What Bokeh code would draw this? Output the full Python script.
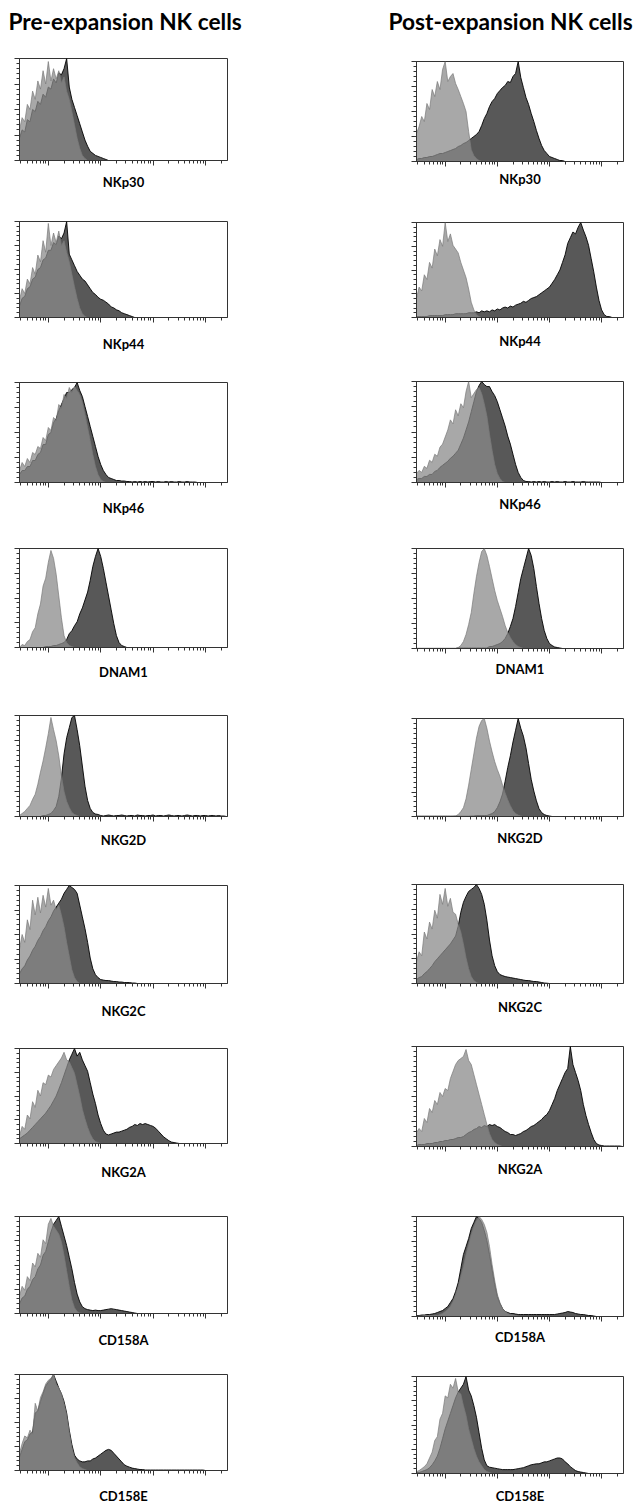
from bokeh.plotting import figure
from bokeh.layouts import row, column
from bokeh.models import Range1d, FixedTicker, CustomJSTickFormatter
from bokeh.embed import file_html
from bokeh.resources import INLINE

# log10 fluorescence bin positions (common histogram channel grid)
BIN_LOG = [0.45, 0.50, 0.55, 0.60, 0.65, 0.70, 0.75, 0.80, 0.85, 0.90,
           0.95, 1.00, 1.05, 1.10, 1.15, 1.20, 1.25, 1.30, 1.35, 1.40,
           1.45, 1.50, 1.55, 1.60, 1.65, 1.70, 1.75, 1.80, 1.85, 1.90,
           1.95, 2.00, 2.05, 2.10, 2.15, 2.20, 2.25, 2.30, 2.35, 2.40,
           2.45, 2.50, 2.55, 2.60, 2.65, 2.70, 2.75, 2.80, 2.85, 2.90,
           2.95, 3.00, 3.05, 3.10, 3.15, 3.20, 3.25, 3.30, 3.35, 3.40,
           3.45, 3.50, 3.55, 3.60, 3.65, 3.70, 3.75, 3.80, 3.85, 3.90,
           3.95, 4.00, 4.05, 4.10, 4.15, 4.20, 4.25, 4.30, 4.35, 4.40]
X_MIN_LOG, X_MAX_LOG = 0.45, 4.42

TITLES = ["Pre-expansion NK cells", "Post-expansion NK cells"]
MARKERS = ["NKp30", "NKp44", "NKp46", "DNAM1", "NKG2D", "NKG2C", "NKG2A", "CD158A", "CD158E"]

# % of mode, isotype control (light) and specific mAb (dark)
PRE_NKP30_ISO = [30, 42, 38, 55, 50, 68, 60, 78, 70, 88, 75, 97, 78, 90, 80, 88, 76, 82, 68, 60, 48, 35, 22, 12, 5, 2]
PRE_NKP30_MAB = [22, 30, 28, 40, 38, 50, 48, 58, 55, 65, 62, 72, 70, 80, 76, 86, 84, 90, 100, 72, 60, 52, 44, 36, 28, 20, 14, 9, 7, 5, 4, 3, 2, 1]
POST_NKP30_ISO = [28, 35, 45, 40, 58, 52, 72, 65, 80, 72, 92, 100, 80, 85, 88, 78, 72, 65, 58, 50, 30, 12, 6, 3, 1]
POST_NKP30_MAB = [2, 3, 3, 4, 4, 5, 5, 6, 7, 8, 8, 9, 10, 11, 12, 13, 15, 16, 18, 19, 21, 23, 25, 27, 30, 36, 43, 48, 55, 60, 63, 68, 71, 74, 76, 80, 79, 85, 88, 100, 84, 74, 64, 57, 48, 40, 31, 23, 16, 11, 8, 5, 4, 3, 2, 1, 1]

PRE_NKP44_ISO = [18, 30, 25, 40, 35, 52, 45, 65, 58, 80, 68, 98, 75, 88, 78, 90, 75, 80, 68, 58, 45, 32, 20, 10, 4, 1]
PRE_NKP44_MAB = [12, 20, 22, 30, 32, 40, 42, 50, 52, 60, 62, 70, 70, 78, 76, 85, 82, 88, 100, 66, 60, 54, 48, 44, 40, 38, 34, 30, 26, 24, 21, 19, 18, 16, 14, 11, 10, 8, 7, 5, 4, 3, 2, 1]
POST_NKP44_ISO = [20, 32, 28, 45, 40, 58, 52, 72, 65, 82, 75, 100, 80, 88, 76, 72, 68, 58, 50, 42, 30, 16, 8, 3, 1]
POST_NKP44_MAB = [1, 1, 1, 1, 1, 2, 2, 2, 2, 2, 2, 3, 3, 3, 3, 4, 4, 4, 4, 4, 5, 5, 5, 6, 5, 7, 6, 7, 6, 8, 7, 9, 8, 10, 11, 10, 12, 11, 13, 14, 15, 17, 16, 18, 20, 21, 22, 24, 26, 28, 30, 32, 36, 40, 45, 50, 58, 66, 78, 84, 90, 88, 95, 100, 92, 85, 76, 62, 48, 32, 18, 8, 3, 1, 1]

PRE_NKP46_ISO = [12, 20, 16, 24, 20, 30, 28, 36, 34, 45, 42, 55, 52, 65, 62, 78, 74, 88, 84, 95, 90, 96, 92, 88, 80, 68, 55, 42, 28, 16, 8, 3, 1]
PRE_NKP46_MAB = [8, 12, 12, 16, 16, 22, 22, 28, 30, 38, 38, 48, 50, 60, 64, 72, 78, 84, 90, 90, 93, 95, 100, 92, 86, 76, 66, 56, 46, 36, 26, 18, 12, 8, 5, 4, 3, 2, 2, 1.5, 1.5, 1, 1, 0.5, 1, 0.5, 1, 0.5, 1, 0.5, 1, 1, 0.5, 1, 0.5, 0.5, 1, 0.5, 1, 0.5, 0.5, 1, 0.5, 0.5, 1, 0.5, 0.5, 0.5]
POST_NKP46_ISO = [9, 12, 10, 16, 14, 22, 20, 28, 26, 35, 38, 45, 52, 62, 58, 72, 66, 78, 74, 90, 100, 84, 88, 92, 94, 88, 78, 66, 48, 32, 18, 9, 4, 1]
POST_NKP46_MAB = [3, 4, 4, 6, 6, 8, 8, 11, 12, 15, 17, 19, 21, 24, 26, 29, 32, 38, 44, 52, 60, 70, 80, 90, 96, 100, 97, 95, 95, 90, 86, 80, 72, 64, 56, 46, 38, 28, 18, 10, 5, 2, 1, 1, 0.5, 1, 0.5, 1, 0.5, 1, 0.5, 0.5, 1, 0.5, 1, 0.5, 0.5, 1, 0.5, 0.5, 1, 0.5, 0.5, 0.5, 1, 0.5, 0.5, 0.5, 0.5, 0.5, 0.5]

PRE_DNAM1_ISO = [0, 3, 2, 6, 8, 16, 20, 34, 44, 62, 70, 86, 98, 90, 74, 52, 30, 12, 5, 2, 1]
PRE_DNAM1_MAB = [0, 0, 0, 0, 0, 0, 0, 0, 0, 0, 1, 1, 1, 2, 2, 3, 4, 5, 8, 14, 17, 22, 26, 34, 40, 48, 56, 68, 82, 92, 100, 92, 80, 66, 52, 38, 24, 12, 5, 2, 1]
POST_DNAM1_ISO = [0.3, 0.3, 0.3, 0.3, 0.3, 0.3, 0.3, 0.3, 0.3, 0.3, 0.3, 0.3, 0.3, 0.3, 0.3, 0.3, 1, 3, 7, 14, 24, 36, 55, 72, 86, 97, 100, 93, 82, 70, 58, 48, 40, 32, 23, 16, 11, 7, 4, 2, 1]
POST_DNAM1_MAB = [0, 0, 0, 0, 0, 0, 0, 0, 0, 0, 0, 0, 0, 0, 0, 0, 0.5, 0.5, 0.5, 0.5, 0.5, 0.5, 0.5, 0.5, 0.5, 0.5, 0.5, 0.5, 2, 2, 3, 4, 5, 7, 10, 15, 22, 30, 42, 56, 70, 80, 90, 100, 93, 80, 62, 45, 30, 18, 10, 5, 3, 1.5, 1, 0.5]

PRE_NKG2D_ISO = [1, 3, 5, 8, 11, 17, 22, 32, 44, 55, 68, 82, 98, 86, 75, 60, 40, 25, 15, 9, 4, 2, 1]
PRE_NKG2D_MAB = [0, 0, 0, 0, 0, 0, 0, 0, 0, 1, 1, 2, 3, 6, 10, 20, 38, 62, 78, 88, 98, 100, 86, 70, 50, 30, 16, 8, 4, 2.5, 2,
                 1, 0.5, 1, 1.5, 1, 0.5, 1, 1, 1.5, 1, 0.5, 1, 1, 0.5, 1.5, 1, 1, 0.5, 1, 1, 1.5, 0.5, 1, 1, 0.5, 1, 1.5, 1, 0.5, 1, 1, 0.5, 1, 1.5, 1, 0.5, 1, 1, 0.5, 1, 1, 0.5, 1, 1, 0.5, 1, 0.5, 0.5]
POST_NKG2D_ISO = [0, 0, 0, 0, 0, 0, 0, 0, 0, 0, 0, 0, 0, 0, 0, 0.5, 2, 5, 9, 18, 32, 48, 64, 80, 92, 98, 100, 90, 77, 66, 56, 48, 41, 32, 24, 17, 11, 6, 3, 1.5, 0.5]
POST_NKG2D_MAB = [0.3, 0.3, 0.3, 0.3, 0.3, 0.3, 0.3, 0.3, 0.3, 0.3, 0.3, 0.3, 0.3, 0.3, 0.3, 0.3, 0.3, 0.3, 0.3, 0.3, 0.3, 0.5, 0.5, 1, 1, 1, 1, 1, 2, 3, 5, 9, 15, 23, 36, 50, 62, 76, 88, 100, 90, 82, 70, 54, 38, 26, 16, 8, 4, 2, 1, 0.5]

PRE_NKG2C_ISO = [35, 50, 42, 65, 55, 85, 70, 88, 72, 90, 78, 97, 80, 85, 75, 80, 70, 58, 42, 28, 14, 6, 2]
PRE_NKG2C_MAB = [10, 15, 18, 24, 28, 34, 38, 44, 48, 54, 58, 64, 68, 74, 78, 82, 86, 92, 96, 100, 98, 96, 92, 80, 68, 56, 42, 26, 15, 9, 6, 4, 3.5, 3, 3, 2.5, 2, 2, 1.5, 1.5, 1, 1, 1, 0.5, 0.5]
POST_NKG2C_ISO = [22, 32, 28, 52, 45, 62, 55, 74, 66, 90, 80, 96, 78, 86, 72, 70, 60, 52, 40, 26, 15, 7, 3, 1]
POST_NKG2C_MAB = [4, 6, 7, 10, 12, 15, 18, 22, 25, 28, 31, 34, 37, 40, 44, 48, 58, 72, 82, 88, 93, 95, 97, 100, 96, 90, 80, 64, 44, 28, 18, 12, 9, 8, 7, 6.5, 6, 5.5, 5, 4.5, 4, 3.5, 3, 3, 2.5, 2, 2, 1.5, 1, 0.5, 0.3]

PRE_NKG2A_ISO = [8, 18, 15, 30, 26, 44, 38, 56, 50, 64, 62, 72, 70, 78, 82, 86, 90, 96, 88, 86, 80, 74, 62, 50, 36, 26, 17, 10, 5, 2, 1]
PRE_NKG2A_MAB = [5, 7, 9, 11, 14, 17, 20, 23, 26, 29, 32, 36, 40, 45, 50, 57, 64, 72, 80, 88, 94, 100, 92, 96, 88, 82, 76, 64, 52, 42, 30, 21, 14, 10, 9, 10, 11, 12, 12, 13, 14, 15, 17, 18, 20, 19, 21, 20, 21, 20, 19, 18, 16, 13, 10, 7, 5, 3, 1.5, 1, 0.5]
POST_NKG2A_ISO = [14, 18, 15, 28, 24, 38, 34, 46, 42, 54, 50, 58, 56, 68, 75, 82, 86, 88, 90, 97, 86, 82, 72, 62, 52, 42, 32, 22, 13, 7, 4, 2, 1]
POST_NKG2A_MAB = [1, 2, 2, 2, 3, 3, 3, 4, 4, 5, 5, 6, 6, 7, 7, 8, 9, 9, 10, 12, 14, 15, 17, 18, 20, 19, 21, 20, 22, 21, 22, 20, 19, 17, 15, 14, 12, 12, 11, 12, 13, 15, 16, 18, 20, 21, 23, 25, 27, 30, 32, 36, 42, 48, 56, 62, 68, 74, 78, 100, 82, 74, 66, 56, 42, 31, 22, 14, 7, 3, 1.5, 1, 0.5, 0.5, 0.5, 0.5, 0.5, 0.5, 0.5]

PRE_CD158A_ISO = [18, 28, 24, 38, 34, 52, 48, 62, 58, 76, 72, 92, 98, 90, 86, 82, 74, 60, 44, 28, 14, 6, 2, 0.5]
PRE_CD158A_MAB = [10, 16, 18, 25, 28, 35, 38, 46, 50, 60, 64, 74, 84, 92, 96, 100, 90, 80, 70, 58, 46, 32, 20, 12, 7, 5, 4, 3.5, 3, 3.5, 3, 3, 3.5, 4, 4.5, 5, 4.5, 4, 3.5, 3, 2.5, 2, 1.5, 1, 0.5]
POST_CD158A_ISO = [0.5, 0.5, 0.5, 1, 1, 1, 1, 1, 1, 2, 3, 5, 7, 10, 15, 22, 30, 40, 50, 62, 72, 82, 90, 96, 100, 97, 92, 84, 70, 52, 36, 22, 14, 8, 5, 3, 2, 1.5, 1, 0.5]
POST_CD158A_MAB = [1, 1, 1.5, 1.5, 2, 2, 2.5, 3, 4, 5, 6, 8, 10, 14, 18, 25, 34, 48, 62, 70, 78, 88, 94, 100, 98, 94, 86, 76, 62, 47, 32, 20, 13, 8, 5, 4, 3, 3, 2.5, 2, 2, 2, 2, 2, 2, 2, 2, 2, 2, 2, 2, 2, 2, 2, 2.5, 3, 3.5, 4, 5, 4.5, 4, 3, 2.5, 2, 2, 1.5, 1, 1, 0.5]

PRE_CD158E_ISO = [18, 28, 36, 34, 42, 38, 70, 62, 76, 82, 90, 94, 96, 100, 90, 86, 80, 70, 58, 40, 24, 13, 8, 4, 2, 1]
PRE_CD158E_MAB = [14, 22, 30, 32, 38, 40, 60, 62, 72, 80, 88, 92, 95, 100, 93, 86, 80, 72, 60, 42, 27, 16, 12, 10, 9, 9, 10, 10, 12, 13, 15, 17, 19, 21, 22, 21, 18, 15, 12, 9, 6, 4.5, 3.5, 2.5, 2, 1.5, 1, 1, 0.5, 0.5, 0.5, 0.5, 0.5, 0.5, 0.5, 0.5, 0.5, 0.5, 0.5, 0.5, 0.5, 0.5, 0.5, 0.5, 0.5, 0.5, 0.5, 0.5, 0.5, 0.5, 0.5]
POST_CD158E_ISO = [2, 3, 5, 7, 10, 16, 22, 34, 38, 56, 62, 80, 78, 92, 88, 98, 84, 82, 70, 60, 46, 36, 26, 18, 12, 8, 4, 2, 1]
POST_CD158E_MAB = [1, 1, 2, 3, 4, 6, 9, 13, 18, 26, 36, 46, 54, 62, 70, 78, 84, 88, 92, 100, 86, 80, 70, 58, 42, 26, 14, 8, 6.5, 6, 5.5, 5, 4.5, 4, 4, 4, 4, 4, 4.5, 5, 5.5, 6, 7, 8, 9, 9.5, 10, 10, 11, 12, 12, 13, 14, 15, 16, 16, 15, 12, 10, 7, 5, 3, 2, 1.5, 1, 0.5]

PRE_SERIES = [(PRE_NKP30_ISO, PRE_NKP30_MAB), (PRE_NKP44_ISO, PRE_NKP44_MAB), (PRE_NKP46_ISO, PRE_NKP46_MAB),
              (PRE_DNAM1_ISO, PRE_DNAM1_MAB), (PRE_NKG2D_ISO, PRE_NKG2D_MAB), (PRE_NKG2C_ISO, PRE_NKG2C_MAB),
              (PRE_NKG2A_ISO, PRE_NKG2A_MAB), (PRE_CD158A_ISO, PRE_CD158A_MAB), (PRE_CD158E_ISO, PRE_CD158E_MAB)]
POST_SERIES = [(POST_NKP30_ISO, POST_NKP30_MAB), (POST_NKP44_ISO, POST_NKP44_MAB), (POST_NKP46_ISO, POST_NKP46_MAB),
               (POST_DNAM1_ISO, POST_DNAM1_MAB), (POST_NKG2D_ISO, POST_NKG2D_MAB), (POST_NKG2C_ISO, POST_NKG2C_MAB),
               (POST_NKG2A_ISO, POST_NKG2A_MAB), (POST_CD158A_ISO, POST_CD158A_MAB), (POST_CD158E_ISO, POST_CD158E_MAB)]

# layout: (top border, frame height, bottom border, axis label standoff); header heights
LEFT_HEADER, RIGHT_HEADER = 56, 59
LEFT_LAYOUT = [(2, 102, 51, 8), (10, 96, 55, 13), (10, 100, 56, 12), (10, 99, 58, 11), (10, 101, 59, 10),
               (10, 98, 55, 14), (10, 95, 63, 15), (10, 97, 51, 13), (10, 100, 32, 12)]
RIGHT_LAYOUT = [(2, 100, 51, 4), (10, 95, 54, 10), (10, 101, 56, 8), (10, 100, 60, 7), (10, 98, 58, 8),
                (10, 99, 53, 10), (10, 100, 60, 9), (10, 100, 50, 7), (10, 99, 31, 9)]

DARK_FILL = "#585858"
LIGHT_FILL = "#8a8a8a"
BOX = "#333333"
FONT = "Lato"

N = len(BIN_LOG)
X = [10 ** v for v in BIN_LOG]
BLANK = CustomJSTickFormatter(code="return ''")


def pad(v):
    v = list(v)[:N]
    return v + [0.0] * (N - len(v))


def header(text, width, height, left, offset):
    h = figure(width=width, height=height, toolbar_location=None, output_backend="svg",
               x_range=Range1d(0, 1), y_range=Range1d(0, 1),
               min_border_left=left, min_border_right=0, min_border_top=0, min_border_bottom=0)
    h.axis.visible = False
    h.grid.visible = False
    h.outline_line_color = None
    h.background_fill_color = "white"
    h.border_fill_color = "white"
    h.title.text = text
    h.title.text_font = FONT
    h.title.text_font_size = "22.7px"
    h.title.text_font_style = "bold"
    h.title.text_color = "black"
    h.title.align = "left"
    h.title.vertical_align = "bottom"
    h.title.offset = offset
    h.title.standoff = 10
    return h


def panel(marker, iso, mab, lay, left, fw, right):
    top, fh, bottom, lab = lay
    p = figure(width=left + fw + right, height=top + fh + bottom,
               x_axis_type="log",
               x_range=Range1d(10 ** X_MIN_LOG, 10 ** X_MAX_LOG), y_range=Range1d(0, 100),
               toolbar_location=None, output_backend="svg",
               min_border_left=left, min_border_right=right,
               min_border_top=top, min_border_bottom=bottom)
    p.background_fill_color = "white"
    p.border_fill_color = "white"
    p.outline_line_color = BOX
    p.outline_line_width = 1
    p.grid.visible = False

    y_iso = pad(iso)
    y_mab = pad(mab)
    p.varea(x=X, y1=[0] * N, y2=y_mab, fill_color=DARK_FILL, fill_alpha=1.0)
    p.line(x=X, y=y_mab, line_color="black", line_width=0.9)
    p.varea(x=X, y1=[0] * N, y2=y_iso, fill_color=LIGHT_FILL, fill_alpha=0.74)
    p.line(x=X, y=y_iso, line_color="#7a7a7a", line_width=0.7)

    xmaj = [10, 100, 1000, 10000]
    xmin = [k * 10 ** d for d in range(0, 5) for k in range(2, 10)]
    p.xaxis.ticker = FixedTicker(ticks=xmaj, minor_ticks=xmin)
    p.yaxis.ticker = FixedTicker(ticks=[0, 25, 50, 75, 100], minor_ticks=list(range(0, 101, 5)))
    for ax in (p.xaxis, p.yaxis):
        ax.formatter = BLANK
        ax.major_label_text_font_size = "1px"
        ax.major_label_standoff = 0
        ax.axis_line_color = BOX
        ax.major_tick_line_color = BOX
        ax.minor_tick_line_color = BOX
        ax.major_tick_in = 0
        ax.minor_tick_in = 0
        ax.major_tick_out = 5
        ax.minor_tick_out = 3
    p.xaxis.axis_label = marker
    p.xaxis.axis_label_text_font = FONT
    p.xaxis.axis_label_text_font_style = "bold"
    p.xaxis.axis_label_text_font_size = "13px"
    p.xaxis.axis_label_text_color = "black"
    p.xaxis.axis_label_standoff = lab
    return p


left_figs = [header(TITLES[0], 320, LEFT_HEADER, 19, -11)]
right_figs = [header(TITLES[1], 313, RIGHT_HEADER, 96, -28)]
for i, m in enumerate(MARKERS):
    iso, mab = PRE_SERIES[i]
    left_figs.append(panel(m, iso, mab, LEFT_LAYOUT[i], 19, 208, 93))
    iso, mab = POST_SERIES[i]
    right_figs.append(panel(m, iso, mab, RIGHT_LAYOUT[i], 96, 207, 10))

layout = row(column(*left_figs, spacing=0), column(*right_figs, spacing=0), spacing=0)

open("out.html", "w").write(file_html(layout, INLINE))
